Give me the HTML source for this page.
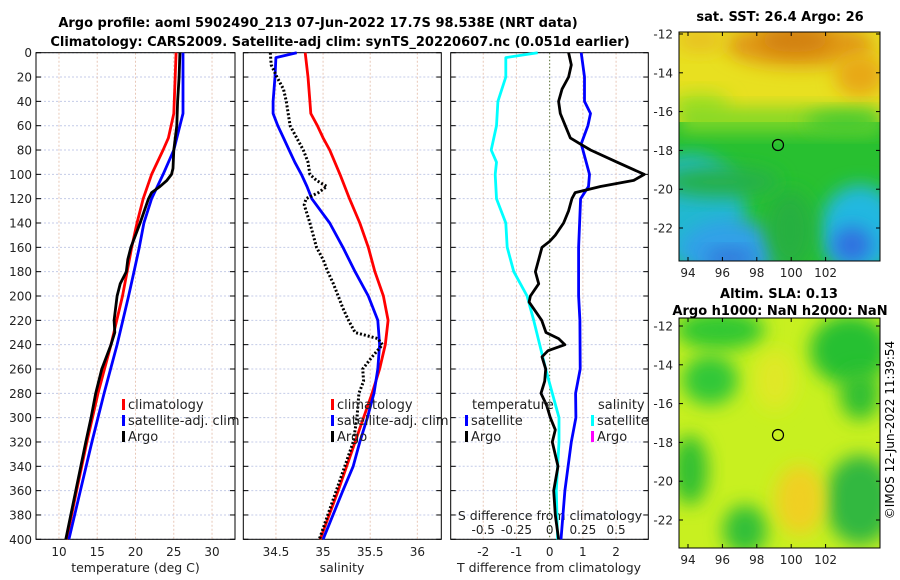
<!DOCTYPE html>
<html><head><meta charset="utf-8"><style>
body{margin:0;background:#fff;}
svg{display:block;font-family:"DejaVu Sans","Liberation Sans",sans-serif;}
</style></head><body>
<svg id="c" width="900" height="580" viewBox="0 0 900 580" xmlns="http://www.w3.org/2000/svg">
<defs>
<filter id="bl" x="-50%" y="-50%" width="200%" height="200%"><feGaussianBlur stdDeviation="9"/></filter>
<clipPath id="cm1"><rect x="679" y="32" width="201" height="229"/></clipPath>
<clipPath id="cm2"><rect x="679" y="318" width="201" height="230"/></clipPath>
</defs>
<text x="318" y="27" text-anchor="middle" font-size="13" font-weight="bold">Argo profile: aoml 5902490_213 07-Jun-2022 17.7S 98.538E (NRT data)</text>
<text x="340" y="46" text-anchor="middle" font-size="13" font-weight="bold">Climatology: CARS2009. Satellite-adj clim: synTS_20220607.nc (0.051d earlier)</text>

<!-- top map -->
<g clip-path="url(#cm1)">
<rect x="679" y="32" width="201" height="229" fill="#e8e020"/>
<ellipse cx="800" cy="45" rx="75" ry="22" fill="#e09818" filter="url(#bl)"/>
<ellipse cx="795" cy="40" rx="35" ry="12" fill="#d07e10" filter="url(#bl)"/>
<ellipse cx="860" cy="75" rx="25" ry="22" fill="#e8a818" filter="url(#bl)"/>
<ellipse cx="700" cy="40" rx="25" ry="12" fill="#e8c020" filter="url(#bl)"/>
<ellipse cx="700" cy="105" rx="30" ry="12" fill="#a0e020" filter="url(#bl)"/>
<rect x="679" y="122" width="201" height="139" fill="#28c030"/>
<rect x="679" y="108" width="201" height="24" fill="#80d828" filter="url(#bl)"/>
<ellipse cx="845" cy="122" rx="40" ry="10" fill="#40c830" filter="url(#bl)"/>
<ellipse cx="690" cy="210" rx="55" ry="55" fill="#20b8d0" filter="url(#bl)"/>
<ellipse cx="730" cy="250" rx="50" ry="30" fill="#30a0e8" filter="url(#bl)"/>
<ellipse cx="860" cy="230" rx="40" ry="45" fill="#20b8e0" filter="url(#bl)"/>
<ellipse cx="852" cy="245" rx="20" ry="18" fill="#3070e0" filter="url(#bl)"/>
<ellipse cx="730" cy="258" rx="25" ry="8" fill="#3070d8" filter="url(#bl)"/>
<ellipse cx="790" cy="230" rx="25" ry="40" fill="#28b040" filter="url(#bl)"/>
<ellipse cx="720" cy="182" rx="60" ry="15" fill="#28b048" filter="url(#bl)"/>
</g>
<rect x="679" y="32" width="201" height="229" fill="none" stroke="#000" stroke-width="1"/>
<circle cx="778" cy="145" r="5.5" fill="none" stroke="#000" stroke-width="1.2"/>
<text x="780" y="21" text-anchor="middle" font-size="13" font-weight="bold">sat. SST: 26.4 Argo: 26</text>

<!-- bottom map -->
<g clip-path="url(#cm2)">
<rect x="679" y="318" width="201" height="230" fill="#c8f020"/>
<ellipse cx="720" cy="330" rx="45" ry="20" fill="#30c830" filter="url(#bl)"/>
<ellipse cx="710" cy="380" rx="28" ry="25" fill="#30c838" filter="url(#bl)"/>
<ellipse cx="850" cy="350" rx="40" ry="35" fill="#28c030" filter="url(#bl)"/>
<ellipse cx="860" cy="395" rx="20" ry="25" fill="#30c030" filter="url(#bl)"/>
<ellipse cx="690" cy="470" rx="18" ry="35" fill="#30c030" filter="url(#bl)"/>
<ellipse cx="745" cy="530" rx="22" ry="25" fill="#30c038" filter="url(#bl)"/>
<ellipse cx="860" cy="500" rx="35" ry="45" fill="#30b840" filter="url(#bl)"/>
<ellipse cx="800" cy="500" rx="25" ry="35" fill="#f0d020" filter="url(#bl)"/>
<ellipse cx="775" cy="380" rx="20" ry="30" fill="#e0e828" filter="url(#bl)"/>
</g>
<rect x="679" y="318" width="201" height="230" fill="none" stroke="#000" stroke-width="1"/>
<circle cx="778" cy="435" r="5.5" fill="none" stroke="#000" stroke-width="1.2"/>
<text x="779" y="298" text-anchor="middle" font-size="13" font-weight="bold">Altim. SLA: 0.13</text>
<text x="780" y="315" text-anchor="middle" font-size="13" font-weight="bold">Argo h1000: NaN h2000: NaN</text>
<text transform="translate(894,430) rotate(-90)" text-anchor="middle" font-size="12">©IMOS 12-Jun-2022 11:39:54</text>
<g id="maxes"></g>
<g id="plots"></g>
</svg>
<script>
// ---- data ----
const tDepth=[0,50,70,80,100,120,140,160,180,200,240,280,320,360,400];
const tClim=[25.3,25.0,24.3,23.6,22.1,21.0,20.2,19.5,18.9,18.3,16.8,15.1,13.65,12.3,11.0];
const tSatDepth=[0,50,60,80,100,120,140,160,180,200,240,280,320,360,400];
const tSat=[26.2,26.2,25.8,25.0,23.6,22.1,21.1,20.5,19.8,19.1,17.6,15.9,14.3,12.8,11.3];
const tArgoDepth=[0,20,40,60,80,95,100,105,110,115,120,140,150,160,170,180,190,200,220,230,240,260,280,300,320,360,400];
const tArgo=[25.8,25.7,25.5,25.4,25.0,24.9,24.7,24.1,23.2,22.1,21.7,20.6,20.0,19.4,19.0,18.8,18.0,17.6,17.2,17.3,16.8,15.6,14.8,14.2,13.5,12.2,10.9];
const sClimDepth=[0,20,40,50,60,70,80,100,120,140,160,180,200,220,240,260,280,300,320,360,400];
const sClim=[34.81,34.84,34.86,34.87,34.94,35.0,35.07,35.18,35.28,35.39,35.48,35.55,35.64,35.69,35.66,35.60,35.52,35.43,35.34,35.16,34.97];
const sSatDepth=[0,4,20,40,50,60,70,80,90,100,110,120,140,160,180,200,220,240,260,280,300,320,340,360,400];
const sSat=[34.72,34.5,34.49,34.47,34.47,34.52,34.58,34.64,34.70,34.77,34.83,34.88,35.07,35.21,35.34,35.48,35.58,35.60,35.58,35.54,35.47,35.39,35.32,35.21,35.0];
const sArgoDepth=[0,10,20,30,40,60,70,80,90,100,105,110,115,120,125,140,160,170,180,190,200,210,220,230,235,240,250,260,270,280,300,320,340,360,400];
const sArgo=[34.44,34.45,34.51,34.58,34.61,34.65,34.72,34.79,34.84,34.86,34.93,35.04,34.95,34.82,34.80,34.86,34.93,35.0,35.05,35.11,35.16,35.21,35.27,35.34,35.58,35.63,35.52,35.42,35.43,35.38,35.36,35.32,35.23,35.14,34.96];
const dsSatDepth=[0,4,20,40,60,80,90,100,120,140,160,180,200,220,240,260,280,300,320,360,400];
const dsSat=[-0.09,-0.33,-0.33,-0.39,-0.40,-0.44,-0.40,-0.41,-0.40,-0.33,-0.32,-0.27,-0.17,-0.12,-0.075,-0.03,0.02,0.07,0.07,0.05,0.06];
const dtSatDepth=[0,20,40,50,60,75,80,100,110,120,160,200,220,260,280,300,320,360,400];
const dtSat=[0.95,1.05,1.05,1.23,1.15,0.95,1.0,1.2,1.17,0.93,0.87,0.87,0.91,0.92,0.78,0.79,0.65,0.46,0.34];
const dtArgoDepth=[0,10,20,30,40,50,60,70,75,80,90,100,105,110,115,120,130,140,150,155,160,170,180,190,200,205,220,230,235,240,245,250,260,270,280,290,300,310,320,340,360,380,400];
const dtArgo=[0.57,0.65,0.57,0.37,0.27,0.32,0.47,0.62,0.92,1.23,2.03,2.85,2.53,1.53,0.77,0.67,0.57,0.42,0.17,0,-0.23,-0.33,-0.43,-0.33,-0.58,-0.62,-0.24,-0.11,0.27,0.46,-0.05,-0.23,-0.12,-0.15,-0.26,-0.09,0.02,0.17,0.08,0.25,0.12,0.17,0.27];
const depthTicks=[0,20,40,60,80,100,120,140,160,180,200,220,240,260,280,300,320,340,360,380,400];
const tTicks=[10,15,20,25,30];
const sTicks=[34.5,35,35.5,36];
const dTicks=[-2,-1,0,1,2];
const dsTicks=[-0.5,-0.25,0,0.25,0.5];
const dsTickLabels=['-0.5','-0.25','0','0.25','0.5'];
const lonTicks=[94,96,98,100,102];
const latTicks=[-12,-14,-16,-18,-20,-22];

const NS='http://www.w3.org/2000/svg';
const root=document.getElementById('plots');
function mk(tag,attrs,parent){const e=document.createElementNS(NS,tag);for(const k in attrs)e.setAttribute(k,attrs[k]);(parent||root).appendChild(e);return e;}
const Y0=52.7,Y1=539.3;
const y=d=>Y0+(Y1-Y0)*d/400;
function xs(x0,x1,v0,v1){return v=>x0+(x1-x0)*(v-v0)/(v1-v0);}
const P=[{x0:36,x1:235,v0:7,v1:33,name:'temperature-panel'},{x0:243.3,x1:441.3,v0:34.154,v1:36.254,name:'salinity-panel'},{x0:450.7,x1:648.3,v0:-2.98,v1:2.97,name:'difference-panel'}];
P.forEach(p=>p.x=xs(p.x0,p.x1,p.v0,p.v1));
const xT=P[0].x,xS=P[1].x,xD=P[2].x,xDS=v=>xD(v*4);
const ticksX=[tTicks,sTicks,dTicks];
P.forEach((p,i)=>{
  const g=mk('g',{});
  
  
  depthTicks.forEach(d=>{const l=mk('line',{x1:p.x0,x2:p.x1,y1:y(d),y2:y(d),stroke:'#c4cbe8','stroke-width':1,'stroke-dasharray':'2,2'},g);
    
    mk('line',{x1:p.x0,x2:p.x0+5,y1:y(d),y2:y(d),stroke:'#000'},g);mk('line',{x1:p.x1,x2:p.x1-5,y1:y(d),y2:y(d),stroke:'#000'},g);});
  ticksX[i].forEach(v=>{const dotted=(i==2&&v==0);
    const l=mk('line',{x1:p.x(v),x2:p.x(v),y1:Y0,y2:Y1,stroke:dotted?'#556b2f':'#e8c8b8','stroke-width':1,'stroke-dasharray':dotted?'1.5,2':'2,2'},g);
    
    const t=mk('text',{x:p.x(v),y:556,'text-anchor':'middle','font-size':12,fill:'#222'},g);t.textContent=String(v);
    });
  mk('rect',{x:p.x0,y:Y0,width:p.x1-p.x0,height:Y1-Y0,fill:'none',stroke:'#000','stroke-width':1},g);
});
depthTicks.forEach(d=>{const t=mk('text',{x:32,y:y(d)+4.5,'text-anchor':'end','font-size':12,fill:'#222'});t.textContent=String(d);
  });
function lbl(x,yy,s,name){const t=mk('text',{x:x,y:yy,'text-anchor':'middle','font-size':12.5,fill:'#222'});t.textContent=s;}
lbl(135.5,572,'temperature (deg C)','x-axis-title-temperature');
lbl(342,572,'salinity','x-axis-title-salinity');
lbl(549,572,'T difference from climatology','x-axis-title-t-difference');
lbl(550,520,'S difference from climatology','s-axis-title');
dsTicks.forEach((v,i)=>{const t=mk('text',{x:xDS(v),y:534,'text-anchor':'middle','font-size':12,fill:'#222'});t.textContent=dsTickLabels[i];
  });
function line(depths,vals,fx,color,name,dash){
  const pts=depths.map((d,i)=>fx(vals[i]).toFixed(1)+','+y(d).toFixed(1)).join(' ');
  const a={points:pts,fill:'none',stroke:color,'stroke-width':2.8,'stroke-linejoin':'round'};
  if(dash){a['stroke-dasharray']=dash;a['stroke-width']=3;}
  const e=mk('polyline',a);
}
line(tDepth,tClim,xT,'#ff0000','temp-climatology-line');
line(tSatDepth,tSat,xT,'#0000ff','temp-satellite-line');
line(tArgoDepth,tArgo,xT,'#000','temp-argo-line');
line(sClimDepth,sClim,xS,'#ff0000','sal-climatology-line');
line(sSatDepth,sSat,xS,'#0000ff','sal-satellite-line');
line(sArgoDepth,sArgo,xS,'#000','sal-argo-line','2,2');
line(dsSatDepth,dsSat,xDS,'#00ffff','s-diff-satellite-line');
line(dtSatDepth,dtSat,xD,'#0000ff','t-diff-satellite-line');
line(dtArgoDepth,dtArgo,xD,'#000','t-diff-argo-line');
function leg(x,yy,color,s,name){const g=mk('g',{});
  if(color)mk('rect',{x:x,y:yy-10,width:3,height:11,fill:color},g);
  const t=mk('text',{x:x+6,y:yy,'font-size':13,fill:'#222'},g);t.textContent=s;}
leg(122,409,'#ff0000','climatology','legend-temp-climatology');
leg(122,425,'#0000ff','satellite-adj. clim','legend-temp-satellite');
leg(122,441,'#000','Argo','legend-temp-argo');
leg(331,409,'#ff0000','climatology','legend-sal-climatology');
leg(331,425,'#0000ff','satellite-adj. clim','legend-sal-satellite');
leg(331,441,'#000','Argo','legend-sal-argo');
leg(466,409,null,'temperature','legend-temperature-header');
leg(465,425,'#0000ff','satellite','legend-t-satellite');
leg(465,441,'#000','Argo','legend-t-argo');
leg(592,409,null,'salinity','legend-salinity-header');
leg(591,425,'#00ffff','satellite','legend-s-satellite');
leg(591,441,'#ff00ff','Argo','legend-s-argo');
// map axes
const mg=document.getElementById('maxes');
const lonX=v=>688+(v-94)*17.2;
const lat1=v=>34+(-12-v)*19.4, lat2=v=>326+(-12-v)*19.4;
[[32,261,lat1],[318,548,lat2]].forEach(([t,b,lf])=>{
  lonTicks.forEach(v=>{mk('line',{x1:lonX(v),x2:lonX(v),y1:b,y2:b-4,stroke:'#000'},mg);mk('line',{x1:lonX(v),x2:lonX(v),y1:t,y2:t+4,stroke:'#000'},mg);
    const tx=mk('text',{x:lonX(v),y:b+16,'text-anchor':'middle','font-size':12,fill:'#222'},mg);tx.textContent=String(v);
    });
  latTicks.forEach(v=>{mk('line',{x1:679,x2:683,y1:lf(v),y2:lf(v),stroke:'#000'},mg);mk('line',{x1:880,x2:876,y1:lf(v),y2:lf(v),stroke:'#000'},mg);
    const tx=mk('text',{x:673,y:lf(v)+4.5,'text-anchor':'end','font-size':12,fill:'#222'},mg);tx.textContent=String(v);
    });
});
</script>
</body></html>
